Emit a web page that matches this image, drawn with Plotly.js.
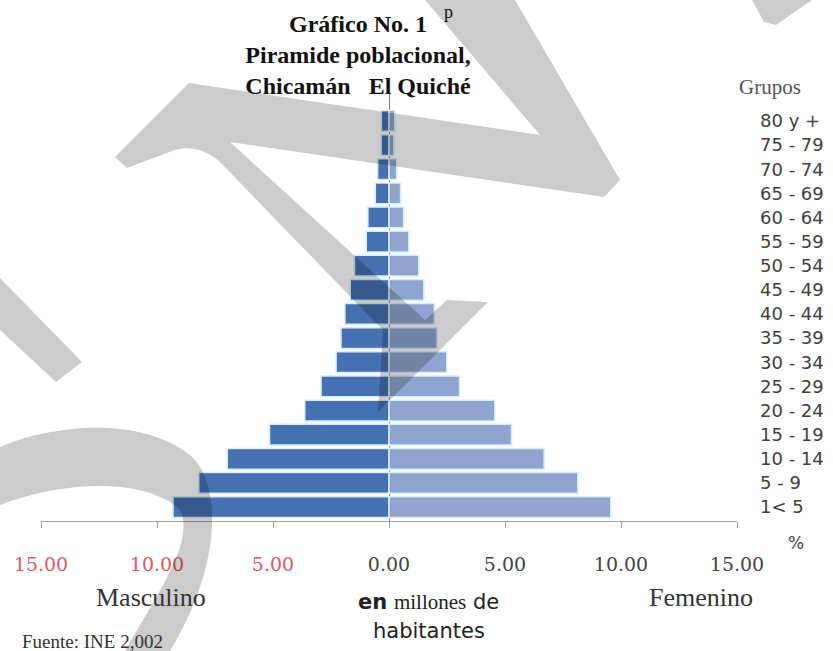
<!DOCTYPE html>
<html>
<head>
<meta charset="utf-8">
<script src="https://cdn.plot.ly/plotly-3.0.1.min.js"></script>
<style>html,body{margin:0;padding:0;background:#fff;}#chart{width:833px;height:651px;}</style>
</head>
<body>
<div id="chart"></div>
<script>
// ---- data (percent of population) ----
const groups = ["1< 5","5 - 9","10 - 14","15 - 19","20 - 24","25 - 29","30 - 34","35 - 39","40 - 44","45 - 49","50 - 54","55 - 59","60 - 64","65 - 69","70 - 74","75 - 79","80 y +"];
const masculino = [9.31, 8.20, 6.97, 5.15, 3.63, 2.93, 2.28, 2.07, 1.90, 1.67, 1.49, 0.98, 0.91, 0.59, 0.49, 0.34, 0.33];
const femenino  = [9.56, 8.14, 6.69, 5.28, 4.56, 3.04, 2.49, 2.07, 1.95, 1.50, 1.28, 0.85, 0.63, 0.50, 0.33, 0.21, 0.25];
const tickValues = [-15, -10, -5, 0, 5, 10, 15];
const tickLabels = ["15.00", "10.00", "5.00", "0.00", "5.00", "10.00", "15.00"];

// ---- layout geometry ----
const W = 833, H = 651;
const M = {l: 41, r: 96, t: 93, b: 130};
const PW = W - M.l - M.r, PH = H - M.t - M.b;
const px = x => (x - M.l) / PW;
const py = y => (H - M.b - y) / PH;

const maleNeg = masculino.map(v => -v);
const ticktext = tickLabels.map((t, i) => tickValues[i] < 0 ? '<span style="color:#dc5a64">' + t + '</span>' : t);

const traces = [
  {type: 'bar', orientation: 'h', name: 'Masculino', y: groups, x: maleNeg,
   marker: {color: '#4571b2', line: {color: '#d6eef9', width: 1.5}}, hoverinfo: 'skip'},
  {type: 'bar', orientation: 'h', name: 'Femenino', y: groups, x: femenino,
   marker: {color: '#8fa5cf', line: {color: '#d6eef9', width: 1.5}}, hoverinfo: 'skip'}
];

// ---- decorative watermark strokes (pixel coords) ----
const watermark = [
  [['M',425,0],['L',515,0],['L',620,180],['L',604,197],['L',230,142],['L',425,320],['L',447,300],['L',488,302],['L',378,412],['L',383,330],['L',373,320],['L',218,160],['Q',195,143,175,150],['L',127,168],['L',115,157],['L',189,83],['L',540,135],['Z']],
  [['M',0,278],['L',82,362],['L',56,382],['L',0,330],['Z']],
  [['M',0,447],['C',50,425,140,415,190,455],['C',220,480,225,560,170,651],['L',125,651],['C',160,590,195,540,180,510],['C',150,480,70,478,0,505],['Z']],
  [['M',752,0],['L',812,0],['L',776,25],['L',764,22],['Z']]
];
function toPath(segs){
  return segs.map(s => {
    if (s[0] === 'Z') return 'Z';
    let out = s[0];
    for (let i = 1; i < s.length; i += 2) out += ' ' + px(s[i]).toFixed(5) + ',' + py(s[i+1]).toFixed(5);
    return out;
  }).join(' ');
}
const shapes = watermark.map(w => ({type: 'path', xref: 'paper', yref: 'paper', path: toPath(w),
  fillcolor: 'rgba(0,0,0,0.2)', line: {width: 0}, layer: 'above'}));

function ann(text, x, y, font, extra){
  return Object.assign({text: text, xref: 'paper', yref: 'paper', x: px(x), y: py(y),
    xanchor: 'center', yanchor: 'middle', showarrow: false, font: font}, extra || {});
}
const annotations = [
  ann('Grupos', 770, 87, {family: 'Liberation Serif', size: 21, color: '#555'}),
  ann('%', 796, 543, {family: 'DejaVu Sans', size: 17, color: '#444'}),
  ann('Masculino', 151, 597, {family: 'Liberation Serif', size: 26, color: '#333'}),
  ann('Femenino', 701, 597, {family: 'Liberation Serif', size: 26, color: '#333'}),
  ann('<b>en</b> <span style="font-family:Liberation Serif">millones</span> de', 428, 602, {family: 'DejaVu Sans', size: 21, color: '#222'}),
  ann('habitantes', 429, 631, {family: 'DejaVu Sans', size: 21, color: '#222'}),
  ann('Fuente: INE 2,002', 92, 641, {family: 'Liberation Serif', size: 19, color: '#333'}),
  ann('p', 449, 0, {family: 'Liberation Serif', size: 18, color: '#111'}, {yanchor: 'top'})
];

const layout = {
  width: W, height: H,
  margin: M,
  paper_bgcolor: '#fff', plot_bgcolor: '#fff',
  showlegend: false,
  barmode: 'relative', bargap: 0.14,
  title: {text: 'Gráfico No. 1<br>Piramide poblacional,<br>Chicamán\u00a0\u00a0\u00a0El Quiché',
    font: {family: 'Liberation Serif', size: 24, color: '#111', weight: 'bold'},
    xref: 'container', yref: 'container', x: 358 / W, xanchor: 'center', y: 1 - 32 / H, yanchor: 'top'},
  xaxis: {range: [-15, 15], tickvals: tickValues, ticktext: ticktext,
    showline: true, linecolor: '#a0a0a0', linewidth: 1, ticks: 'outside', ticklen: 6, tickcolor: '#a0a0a0',
    zeroline: true, zerolinecolor: '#7f7f7f', zerolinewidth: 1, showgrid: false,
    tickfont: {family: 'DejaVu Serif', size: 19, color: '#444'}, ticklabelstandoff: 20, fixedrange: true},
  yaxis: {type: 'category', categoryorder: 'array', categoryarray: groups, range: [-0.58, 17.16],
    side: 'right', showline: false, ticks: '', showgrid: false, zeroline: false,
    tickfont: {family: 'DejaVu Sans', size: 18, color: '#404040'}, ticklabelstandoff: 22, fixedrange: true},
  shapes: shapes,
  annotations: annotations
};

Plotly.newPlot('chart', traces, layout, {displayModeBar: false, staticPlot: true});
</script>
</body>
</html>
